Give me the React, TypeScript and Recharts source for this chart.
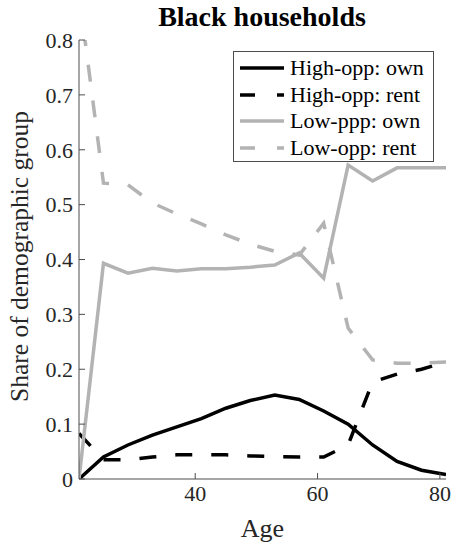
import { LineChart, Line, XAxis, YAxis, Label } from 'recharts';

// Age of household head (4-year bins)
const ages = [21, 25, 29, 33, 37, 41, 45, 49, 53, 57, 61, 65, 69, 73, 77, 81];

// Share of Black households in each neighbourhood / tenure group
const highOppOwn = [0, 0.04, 0.062, 0.08, 0.095, 0.11, 0.129, 0.143, 0.153, 0.145, 0.124, 0.1, 0.062, 0.032, 0.016, 0.008];
const highOppRent = [0.083, 0.035, 0.035, 0.04, 0.044, 0.044, 0.044, 0.042, 0.041, 0.04, 0.04, 0.062, 0.177, 0.191, 0.2, 0.213];
const lowOppOwn = [0, 0.393, 0.375, 0.384, 0.379, 0.383, 0.383, 0.386, 0.39, 0.412, 0.366, 0.572, 0.543, 0.567, 0.567, 0.567];
const lowOppRent = [0.885, 0.539, 0.536, 0.503, 0.483, 0.465, 0.445, 0.428, 0.415, 0.408, 0.466, 0.275, 0.217, 0.211, 0.211, 0.213];

const xTicks = [40, 60, 80];
const yTicks = [0, 0.1, 0.2, 0.3, 0.4, 0.5, 0.6, 0.7, 0.8];

const data = ages.map((age, i) => ({
  age,
  highOwn: highOppOwn[i],
  highRent: highOppRent[i],
  lowOwn: lowOppOwn[i],
  lowRent: lowOppRent[i],
}));

const FONT = '"Liberation Serif", "DejaVu Serif", serif';
const BLACK = '#000000';
const GREY = '#b3b3b3';
const AXIS = '#4d4d4d';
const DASH = '17 19';

const series = [
  { key: 'highOwn', name: 'High-opp: own', color: BLACK, dash: undefined },
  { key: 'highRent', name: 'High-opp: rent', color: BLACK, dash: DASH },
  { key: 'lowOwn', name: 'Low-ppp: own', color: GREY, dash: undefined },
  { key: 'lowRent', name: 'Low-opp: rent', color: GREY, dash: DASH },
];

const tickStyle = { fontFamily: FONT, fontSize: 22, fill: '#262626' };

function LegendBox() {
  return (
    <div
      style={{
        position: 'absolute',
        left: 233,
        top: 51,
        width: 201,
        height: 111,
        boxSizing: 'border-box',
        border: `1px solid ${AXIS}`,
        background: '#fff',
        padding: '3px 0 0 6px',
        fontFamily: FONT,
        fontSize: 22,
        color: '#000',
        zIndex: 2,
      }}
    >
      {series.map((s) => (
        <div key={s.key} style={{ display: 'flex', alignItems: 'center', height: 26.5 }}>
          <svg width={44} height={10} style={{ marginRight: 6, flex: 'none' }}>
            <line
              x1={0}
              y1={5}
              x2={44}
              y2={5}
              stroke={s.color}
              strokeWidth={3.5}
              strokeDasharray={s.dash ? '15 22' : undefined}
            />
          </svg>
          <span style={{ whiteSpace: 'pre' }}>{s.name}</span>
        </div>
      ))}
    </div>
  );
}

export default function App() {
  return (
    <div style={{ position: 'absolute', left: 0, top: 0, width: 454, height: 543, background: '#fff' }}>
      <div
        style={{
          position: 'absolute',
          left: 0,
          width: 454,
          top: 1,
          lineHeight: '32px',
          textAlign: 'center',
          paddingLeft: 70,
          boxSizing: 'border-box',
          fontFamily: FONT,
          fontWeight: 'bold',
          fontSize: 28,
          color: '#000',
          zIndex: 2,
        }}
      >
        Black households
      </div>
      <LegendBox />
      <LineChart width={454} height={543} data={data} margin={{ top: 40, right: 8, bottom: 0, left: 0 }}>
        <XAxis
          dataKey="age"
          type="number"
          domain={[21, 81]}
          allowDataOverflow
          ticks={xTicks}
          tickSize={-6}
          tickMargin={12}
          height={64}
          stroke={AXIS}
          tick={tickStyle}
        >
          <Label value="Age" position="insideBottom" offset={6} style={{ fontFamily: FONT, fontSize: 26, fill: '#262626' }} />
        </XAxis>
        <XAxis
          xAxisId="top"
          orientation="top"
          type="number"
          domain={[21, 81]}
          allowDataOverflow
          ticks={xTicks}
          tickSize={-6}
          height={0}
          stroke={AXIS}
          tick={() => <g />}
        />
        <YAxis
          type="number"
          domain={[0, 0.8]}
          allowDataOverflow
          ticks={yTicks}
          tickSize={-6}
          tickMargin={12}
          width={79}
          stroke={AXIS}
          tick={tickStyle}
        >
          <Label
            content={({ viewBox }: any) => (
              <text
                x={viewBox.x + 28}
                y={viewBox.y + viewBox.height / 2 - 3}
                transform={`rotate(-90, ${viewBox.x + 28}, ${viewBox.y + viewBox.height / 2 - 3})`}
                textAnchor="middle"
                style={{ fontFamily: FONT, fontSize: 25.5, fill: '#262626' }}
              >
                Share of demographic group
              </text>
            )}
          />
        </YAxis>
        <YAxis
          yAxisId="right"
          orientation="right"
          type="number"
          domain={[0, 0.8]}
          allowDataOverflow
          ticks={yTicks}
          tickSize={-6}
          width={0}
          stroke={AXIS}
          tick={() => <g />}
        />
        {series.map((s) => (
          <Line
            key={s.key}
            type="linear"
            dataKey={s.key}
            name={s.name}
            stroke={s.color}
            strokeWidth={3.5}
            strokeDasharray={s.dash}
            dot={false}
            activeDot={false}
            isAnimationActive={false}
          />
        ))}
      </LineChart>
    </div>
  );
}
